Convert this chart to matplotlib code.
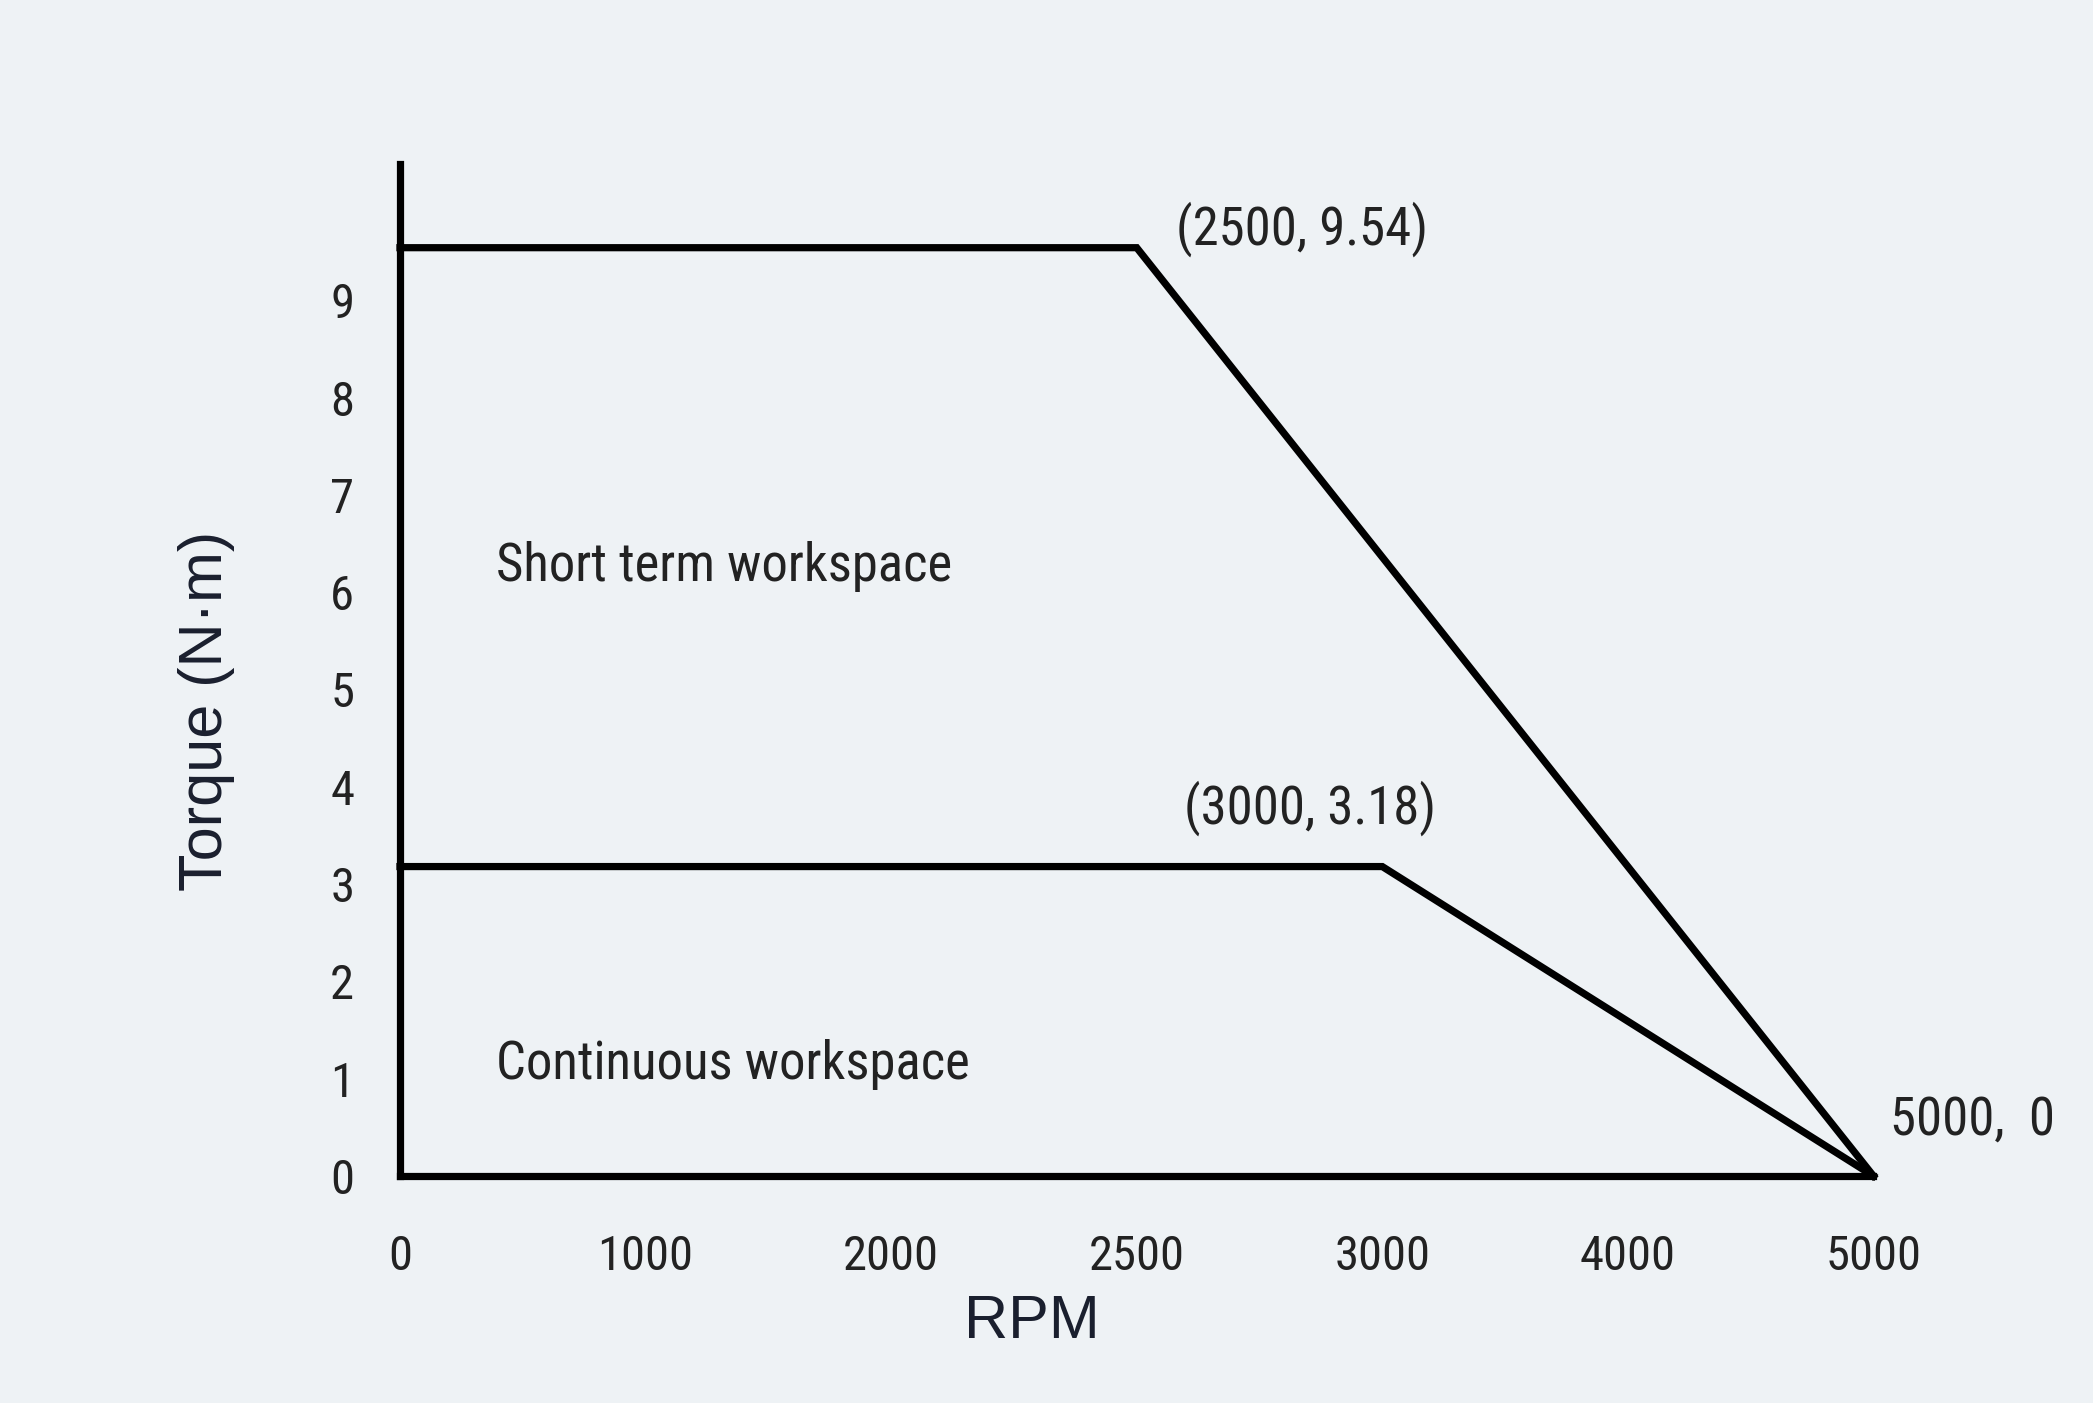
import numpy as np
import matplotlib
matplotlib.use("Agg")
import matplotlib.pyplot as plt
from matplotlib import font_manager as fm

# ---- data ----
rpm_ticks = [0, 1000, 2000, 2500, 3000, 4000, 5000]
torque_ticks = [0, 1, 2, 3, 4, 5, 6, 7, 8, 9]
short_rpm = [0, 2500, 5000]
short_torque = [9.54, 9.54, 0]
cont_rpm = [0, 3000, 5000]
cont_torque = [3.18, 3.18, 0]
point_labels = ["(2500, 9.54)", "(3000, 3.18)", "5000,  0"]
point_xy = [(2500, 9.54), (3000, 3.18), (5000, 0)]
region_labels = ["Short term workspace", "Continuous workspace"]

# ---- pick a narrow font if available ----
narrow = None
prefs = ["Liberation Sans Narrow", "DejaVu Sans Condensed", "Open Sans Condensed", "Roboto Condensed"]
for p in prefs:
    for f in fm.fontManager.ttflist:
        if f.name == p and f.weight in (400, "normal", "regular") and f.style == "normal":
            narrow = f.fname
            break
    if narrow:
        break
if narrow is None:
    for f in fm.fontManager.ttflist:
        if ("Condensed" in f.fname or "Narrow" in f.fname) and f.style == "normal" and "Bold" not in f.fname and "Light" not in f.fname:
            narrow = f.fname
            break
if narrow:
    nfp = lambda size: fm.FontProperties(fname=narrow, size=size)
else:
    nfp = lambda size: fm.FontProperties(family="DejaVu Sans", stretch="condensed", size=size)

BG = "#eef2f5"
TXT = "#222222"

fig = plt.figure(figsize=(20.93, 14.03), dpi=100, facecolor=BG)
ax = fig.add_axes([0.1911, 0.1618, 0.704, 0.7213])
ax.set_facecolor(BG)

idx = np.arange(len(rpm_ticks), dtype=float)
fwd = lambda v: np.interp(v, rpm_ticks, idx)
inv = lambda v: np.interp(v, idx, rpm_ticks)
ax.set_xscale("function", functions=(fwd, inv))
ax.set_xlim(0, 5000)
ax.set_ylim(0, 10.4)

ax.plot(short_rpm, short_torque, color="black", lw=5.2, solid_joinstyle="miter", clip_on=False)
ax.plot(cont_rpm, cont_torque, color="black", lw=5.2, solid_joinstyle="miter", clip_on=False)

for s in ["top", "right"]:
    ax.spines[s].set_visible(False)
for s in ["left", "bottom"]:
    ax.spines[s].set_linewidth(5.2)
    ax.spines[s].set_color("black")

ax.set_xticks(rpm_ticks)
ax.set_xticklabels([str(v) for v in rpm_ticks])
ax.set_yticks(torque_ticks)
ax.set_yticklabels([str(v) for v in torque_ticks])
ax.tick_params(axis="both", length=0, colors=TXT)
ax.tick_params(axis="x", pad=42)
ax.tick_params(axis="y", pad=33)
for lab in ax.get_xticklabels() + ax.get_yticklabels():
    lab.set_fontproperties(nfp(35))

ax.set_xlabel("RPM", fontsize=44, family="Liberation Sans", color="#1a1f2e")
ax.set_ylabel("Torque (N·m)", fontsize=44, family="Liberation Sans", color="#1a1f2e")
ax.xaxis.set_label_coords(0.429, -0.145)
ax.yaxis.set_label_coords(-0.131, 0.46)
ax.xaxis.label.set_va("center")
ax.yaxis.label.set_va("center")

offsets = [(28, 13), (-143, 42), (12, 40)]
for lab, xy, off in zip(point_labels, point_xy, offsets):
    ax.annotate(lab, xy=xy, xytext=off, textcoords="offset points",
                ha="left", va="center", fontproperties=nfp(38), color=TXT,
                annotation_clip=False)

ax.text(393, 6.26, region_labels[0], ha="left", va="center", fontproperties=nfp(38), color=TXT)
ax.text(393, 1.15, region_labels[1], ha="left", va="center", fontproperties=nfp(38), color=TXT)

fig.savefig("out.png", dpi=100, facecolor=BG)
